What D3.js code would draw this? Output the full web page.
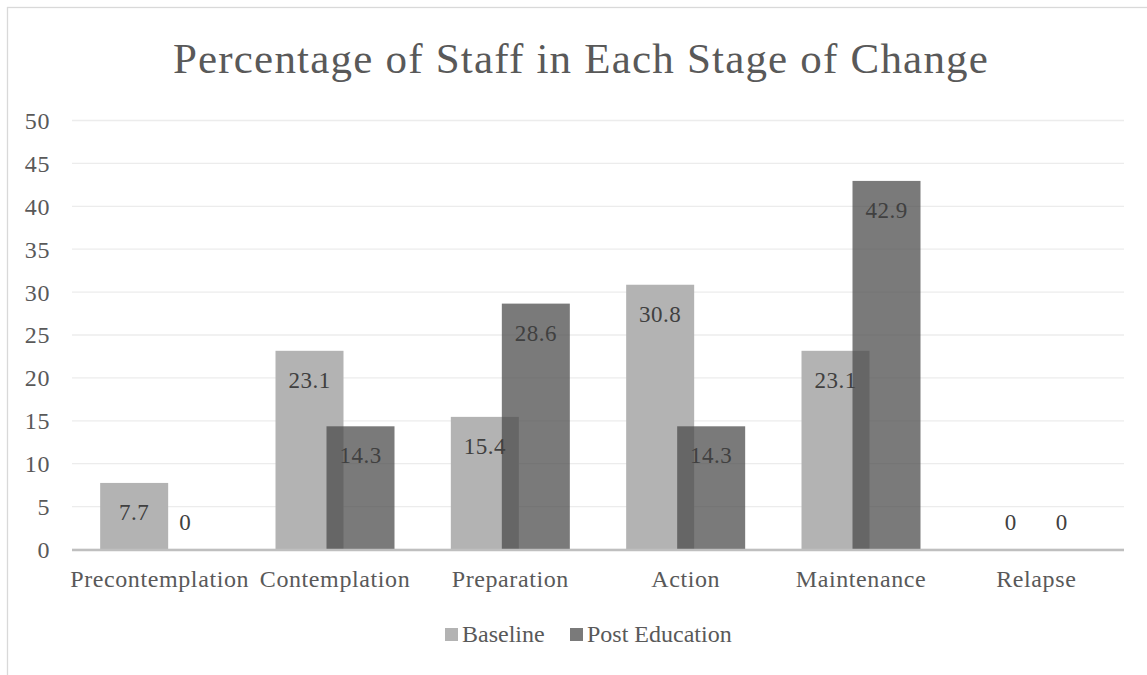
<html lang="en">
<head>
<meta charset="utf-8">
<title>Percentage of Staff in Each Stage of Change</title>
<style>
  body { margin: 0; background: white; }
  svg { display: block; background: white; }
  .grid line { stroke: #ececec; stroke-width: 1.3; }
  .grid path { display: none; }
  .axis text { fill: #595959; font-size: 24px; letter-spacing: 0.6px; }
  .axis line, .axis path { display: none; }
</style>
</head>
<body>
<script src="https://cdnjs.cloudflare.com/ajax/libs/d3/7.8.5/d3.min.js"></script>
<script>
var categories = ["Precontemplation", "Contemplation", "Preparation", "Action", "Maintenance", "Relapse"];
var seriesNames = ["Baseline", "Post Education"];
var baseline = [7.7, 23.1, 15.4, 30.8, 23.1, 0];
var postEducation = [0, 14.3, 28.6, 14.3, 42.9, 0];
var yTicks = [0, 5, 10, 15, 20, 25, 30, 35, 40, 45, 50];

var serif = "'Liberation Serif', 'Times New Roman', serif";

var fullwidth = 1147, fullheight = 675;
var margin = { top: 120, right: 23, bottom: 126, left: 72 };
var width = fullwidth - margin.left - margin.right;
var height = fullheight - margin.top - margin.bottom;

var svg = d3.select("body").append("svg")
  .attr("width", fullwidth)
  .attr("height", fullheight);

// chart frame (only top and left edges show in the picture)
svg.append("rect")
  .attr("x", 7.5).attr("y", 7.5)
  .attr("width", 1300).attr("height", 800)
  .attr("fill", "none").attr("stroke", "#d9d9d9").attr("stroke-width", 1.3);

svg.append("text")
  .attr("x", 581).attr("y", 73)
  .attr("text-anchor", "middle")
  .style("font-family", serif)
  .style("font-size", "43px").style("fill", "#595959").style("letter-spacing", "1.2px")
  .text("Percentage of Staff in Each Stage of Change");

var g = svg.append("g").attr("transform", "translate(" + margin.left + "," + margin.top + ")");

var x = d3.scaleBand().domain(categories).range([0, width]);
var y = d3.scaleLinear().domain([0, 50]).range([height, 0]);

var barW = 68, step = 51;

g.append("g").attr("class", "grid")
  .call(d3.axisLeft(y).tickValues(yTicks).tickSize(-width).tickFormat(""));

g.append("g").attr("class", "axis")
  .call(d3.axisLeft(y).tickValues(yTicks).tickSize(0).tickPadding(22))
  .selectAll("text").attr("dy", "0.35em").style("font-family", serif);

var series = [
  { name: seriesNames[0], values: baseline, fill: "#b3b3b3", opacity: 1, off: -step / 2 },
  { name: seriesNames[1], values: postEducation, fill: "#4b4b4b", opacity: 0.74, off: step / 2 }
];

series.forEach(function(s) {
  g.selectAll(null).data(s.values).enter().append("rect")
    .attr("x", function(d, i) { return x(categories[i]) + x.bandwidth() / 2 + s.off - barW / 2; })
    .attr("y", function(d) { return y(d); })
    .attr("width", barW)
    .attr("height", function(d) { return height - y(d); })
    .attr("fill", s.fill)
    .attr("fill-opacity", s.opacity);
});

// x axis line
g.append("line")
  .attr("x1", 0).attr("x2", width)
  .attr("y1", height + 1).attr("y2", height + 1)
  .attr("stroke", "#bfbfbf").attr("stroke-width", 2.5);

series.forEach(function(s) {
  g.selectAll(null).data(s.values).enter().append("text")
    .attr("text-anchor", "middle")
    .attr("x", function(d, i) { return x(categories[i]) + x.bandwidth() / 2 + s.off; })
    .attr("y", function(d) { return d > 0 ? y(d) + 37 : y(0) - 19; })
    .style("font-family", serif)
    .style("font-size", "23px")
    .style("letter-spacing", "0.5px")
    .style("fill", "#404040")
    .text(function(d) { return d; });
});

g.append("g").attr("class", "axis")
  .attr("transform", "translate(0," + height + ")")
  .call(d3.axisBottom(x).tickSize(0).tickPadding(38))
  .selectAll("text").attr("dy", "0").style("font-family", serif);

// legend
var legend = svg.append("g").attr("transform", "translate(445,642)");
var lx = [0, 125];
series.forEach(function(s, i) {
  legend.append("rect")
    .attr("x", lx[i]).attr("y", -14)
    .attr("width", 13).attr("height", 13)
    .attr("fill", s.fill).attr("fill-opacity", s.opacity);
  legend.append("text")
    .attr("x", lx[i] + 17).attr("y", 0)
    .style("font-family", serif)
    .style("font-size", "24px")
    .style("fill", "#595959")
    .text(s.name);
});
</script>
</body>
</html>
